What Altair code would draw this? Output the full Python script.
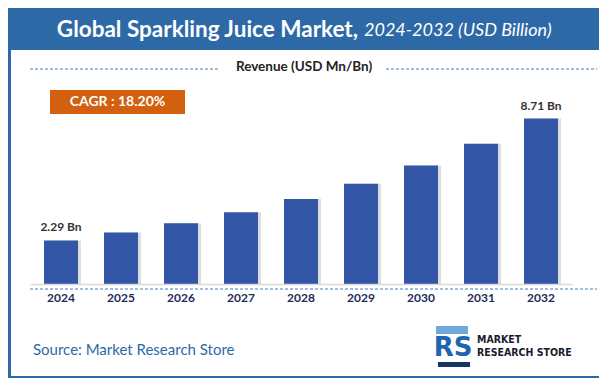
import altair as alt
import pandas as pd

years = ["2024", "2025", "2026", "2027", "2028", "2029", "2030", "2031", "2032"]
revenue = [2.29, 2.71, 3.20, 3.78, 4.47, 5.28, 6.24, 7.38, 8.71]
value_labels = ["2.29 Bn", "", "", "", "", "", "", "", "8.71 Bn"]

title_main = "Global Sparkling Juice Market,"
title_sub = "2024-2032 (USD Billion)"
legend_text = "Revenue (USD Mn/Bn)"
cagr_text = "CAGR : 18.20%"
source_text = "Source: Market Research Store"

df = pd.DataFrame({"year": years, "revenue": revenue, "label": value_labels})
one = pd.DataFrame({"a": [0]})

FONT = "Lato"
NARROW = "'DejaVu Sans Condensed', sans-serif"
BLUE = "#2e69a7"
BAR = "#3356a6"

# plot origin is at page (30, 113); helpers convert page coords to plot coords
def px(x):
    return x - 30

def py(y):
    return y - 113

xenc = alt.X("year:N", sort=years, title=None,
             scale=alt.Scale(paddingInner=0.433, paddingOuter=0.233),
             axis=alt.Axis(labelAngle=0, labelFont=FONT, labelFontWeight="bold",
                           labelFontSize=12, labelColor="#1f2a5a", ticks=False,
                           labelPadding=8, domainColor="#d9d9d9", domainWidth=1.5,
                           grid=False, zindex=1))
yenc = alt.Y("revenue:Q", scale=alt.Scale(domain=[0, 9]), axis=None)

base = alt.Chart(df)

shadow = base.mark_bar(color="#c8c8c8", opacity=0.6, xOffset=3).encode(
    x=xenc, y=yenc, y2=alt.value(171))
bars = base.mark_bar(color=BAR).encode(x=xenc, y=yenc)
labels = base.mark_text(font=FONT, fontWeight="bold", fontSize=12, color="#333333",
                        baseline="bottom", dy=-6).encode(
    x=xenc, y=yenc, text="label:N")


def txt(s, x, y, **kw):
    return alt.Chart(one).mark_text(**kw).encode(
        x=alt.value(px(x)), y=alt.value(py(y)), text=alt.value(s))


def box(x1, x2, y1, y2, **kw):
    return alt.Chart(one).mark_rect(**kw).encode(
        x=alt.value(px(x1)), x2=alt.value(px(x2)), y=alt.value(py(y1)), y2=alt.value(py(y2)))


def hrule(x1, x2, y):
    return alt.Chart(one).mark_rule(color="#4a7cc0", strokeDash=[3, 2], strokeWidth=1).encode(
        x=alt.value(px(x1)), x2=alt.value(px(x2)), y=alt.value(py(y)))


border = box(9.5, 600.5, 9.5, 377.5, fillOpacity=0, stroke=BLUE, strokeWidth=3)
banner = box(8, 601, 8, 50, fill=BLUE)
t1 = txt(title_main, 358, 30, font=FONT, fontWeight="bold", fontSize=22.5, color="white",
         align="right", baseline="middle")
t2 = txt(title_sub, 364, 31, font=FONT, fontStyle="italic", fontSize=18, color="white",
         align="left", baseline="middle")
leg = txt(legend_text, 304, 67, font=FONT, fontWeight="bold", fontSize=13.5, color="#222222",
          align="center", baseline="middle")
dl1 = hrule(30, 220, 69)
dl2 = hrule(386, 597, 69)
cagr_box = box(50, 185, 90, 114, fill="#d2600f")
cagr = txt(cagr_text, 117.5, 102, font=FONT, fontWeight="bold", fontSize=14, color="white",
           align="center", baseline="middle")
dl3 = hrule(30, 597, 289)
src = txt(source_text, 33, 350, font=FONT, fontSize=15, color="#2e6aa6",
          align="left", baseline="middle")
logo1 = txt("MARKET", 477, 340, font=NARROW, fontWeight="bold", fontSize=10.5,
            color="#1a1a2e", align="left", baseline="middle")
logo2 = txt("RESEARCH STORE", 477, 353, font=NARROW, fontWeight="bold", fontSize=10.5,
            color="#1a1a2e", align="left", baseline="middle")
icon_top = box(436, 468, 326, 334, fill="#6fa8dc")
icon_base = box(438, 470, 362, 367, fill="#16365f")
icon_rs = txt("RS", 453, 348, font="DejaVu Sans", fontWeight="bold", fontSize=26,
              color="#1f64b0", align="center", baseline="middle")

chart = alt.layer(
    border, banner, t1, t2, leg, dl1, dl2, cagr_box, cagr,
    shadow, bars, labels, dl3, src, icon_top, icon_base, icon_rs, logo1, logo2
).properties(
    width=542, height=171,
    padding={"left": 22, "right": 27, "top": 105, "bottom": 94},
    autosize=alt.AutoSizeParams(type="none"),
    background="white",
).configure_view(stroke=None)

chart.save("out.html", embed_options={"renderer": "svg", "actions": False})
